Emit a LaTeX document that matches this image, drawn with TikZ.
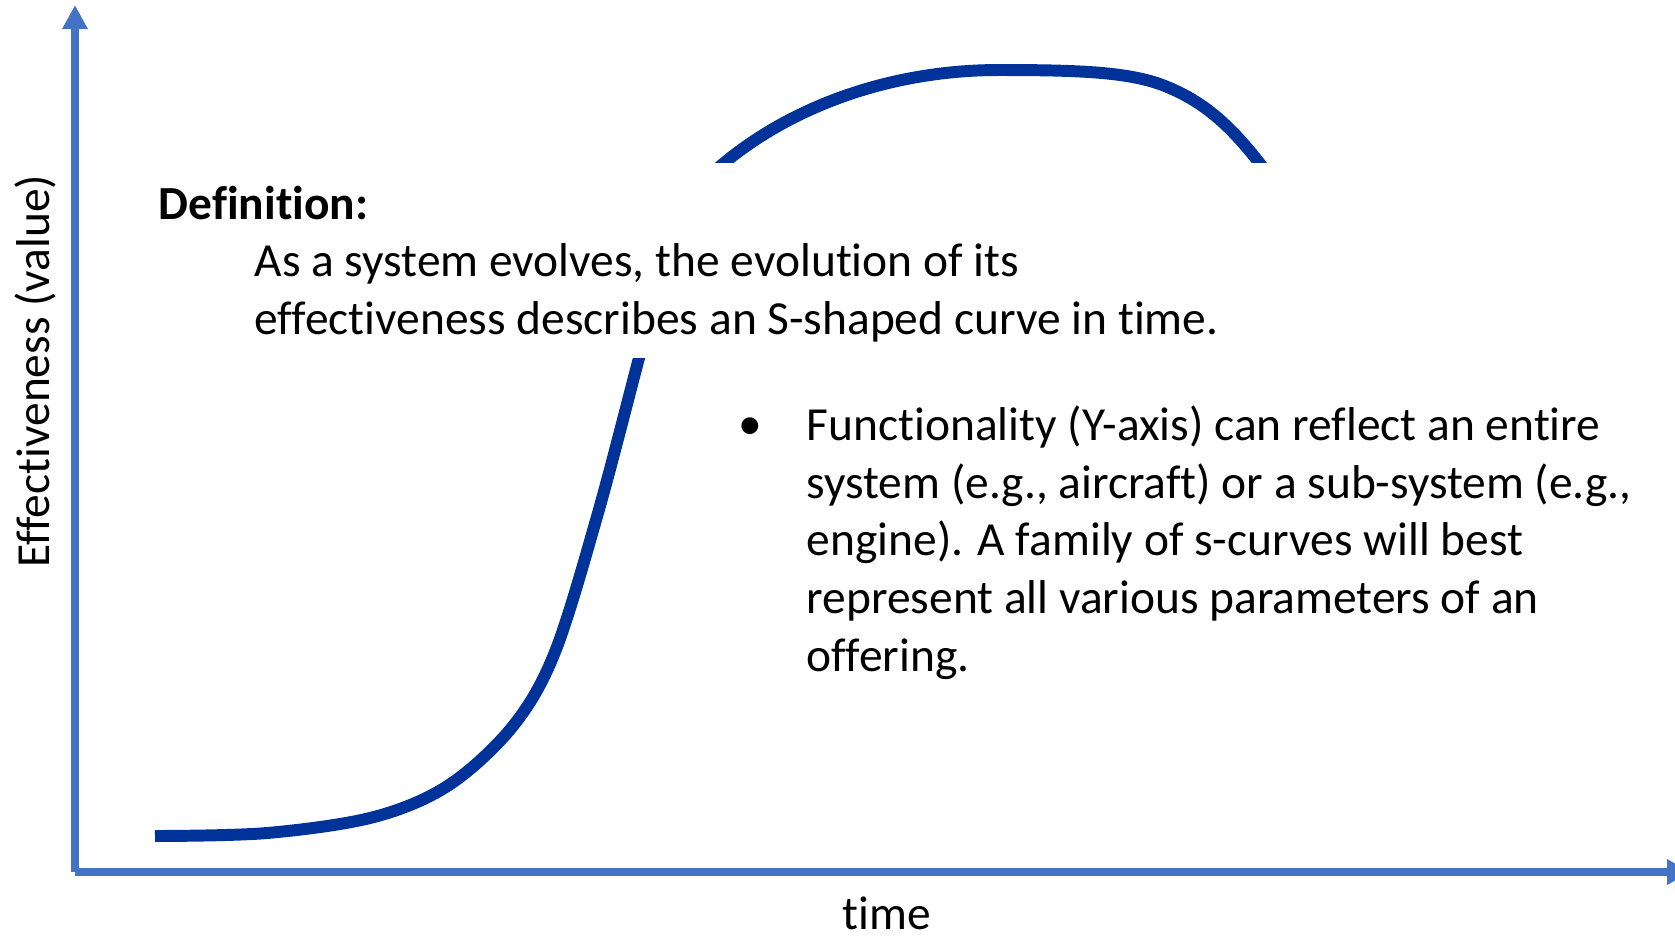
\documentclass[tikz,border=0pt]{standalone}
\usepackage{fontspec}
\setmainfont[Ligatures=NoCommon]{Carlito}
\usetikzlibrary{arrows.meta}
\definecolor{axisblue}{HTML}{4472C4}
\definecolor{curveblue}{HTML}{003399}

\begin{document}
\begin{tikzpicture}[x=0.01cm, y=-0.01cm,
    axis/.style={draw=axisblue, line width=2.1pt, -{Triangle[width=0.24cm, length=0.24cm]}},
    scurve/.style={draw=curveblue, line width=3.4pt},
    txt/.style={font=\fontsize{13.5}{16.4}\selectfont, inner sep=0pt, align=left},
  ]
    \useasboundingbox (0,0) rectangle (1675,935);
    % axes
    \coordinate (origin) at (75,872);
    \coordinate (ytip)   at (75,5);
    \coordinate (xtip)   at (1691,872);
    \draw[axis] (origin) -- (ytip);
    \draw[axis] (origin) -- (xtip);
    \node[txt, rotate=90] (ylabel) at (35,371) {Effectiveness (value)};
    \node[txt] (xlabel) at (887,913) {time};
    % s-curve (middle part lies under the definition box)
    \draw[scurve] plot[smooth, tension=0.55] coordinates {
      (155,836) (267,833) (374,817) (449,785) (513,726) (555,652)
      (598,513) (639,358) (660,280)}
      -- (690,195) .. controls (765,114) and (880,70) .. (999,70)
      .. controls (1080,70) and (1130,72) .. (1165,86)
      .. controls (1215,106) and (1245,140) .. (1290,205);
    % definition box
    \fill[white] (140,163) rectangle (1300,358);
    \node[txt, anchor=base west, font=\fontsize{13.5}{16.4}\selectfont\bfseries] (defhead) at (158,219) {Definition:};
    \node[txt, anchor=base west] (deftext) at (254,334)
      {As a system evolves, the evolution of its\\effectiveness describes an S-shaped curve in time.};
    % bullet note
    \node[txt, anchor=base west] (bullet) at (738,439) {•};
    \node[txt, anchor=base west] (note) at (806,671)
      {Functionality (Y-axis) can reflect an entire\\system (e.g., aircraft) or a sub-system (e.g.,\\engine). A family of s-curves will best\\represent all various parameters of an\\offering.};
  \end{tikzpicture}
\end{document}
